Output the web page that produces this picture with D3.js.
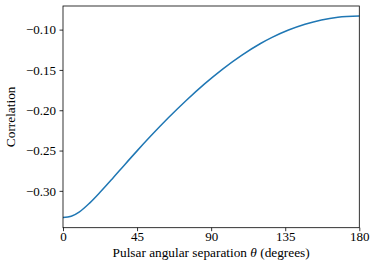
<!DOCTYPE html>
<html>
<head>
<meta charset="utf-8">
<script src="https://cdn.jsdelivr.net/npm/d3@7"></script>
<style>
    html, body { margin: 0; padding: 0; background: #fff; }
    svg { display: block; }
    text { font-family: "Liberation Serif", "DejaVu Serif", serif; fill: #000; }
</style>
</head>
<body>
<div id="chart"></div>
<script>
// Values
var thetaDeg = [0, 5, 10, 16, 22.5, 30, 37.5, 45, 53, 64, 75, 86, 97, 108.5, 120, 127, 137, 147, 157, 167, 180];
var correlation = [-0.3332, -0.3315, -0.3260, -0.3155, -0.3018, -0.2849, -0.2675, -0.2504,
    -0.2327, -0.2094, -0.1876, -0.1673, -0.1489, -0.1319, -0.1172, -0.1096, -0.1005,
    -0.0933, -0.0880, -0.0847, -0.0832];
var xTicks = [0, 45, 90, 135, 180];
var yTicks = [-0.30, -0.25, -0.20, -0.15, -0.10];

(function () {

    "use strict";

    var width = 374,
        height = 266,
        margin = {top: 6, right: 14.7, bottom: 38.3, left: 63};

    var svg = d3.select("#chart").append("svg")
        .attr("width", width)
        .attr("height", height);

    var innerW = width - margin.left - margin.right,
        innerH = height - margin.top - margin.bottom;

    var x = d3.scaleLinear().domain([0, 180]).range([0, innerW]);

    // matplotlib style 5% margins on the y data range
    var yMin = d3.min(correlation), yMax = d3.max(correlation),
        pad = (yMax - yMin) * 0.05;
    var y = d3.scaleLinear().domain([yMin - pad, yMax + pad]).range([innerH, 0]);

    var g = svg.append("g")
        .attr("transform", "translate(" + margin.left + "," + margin.top + ")");

    var points = thetaDeg.map(function (t, i) {
        return {t: t, v: correlation[i]};
    });

    var line = d3.line()
        .x(function (d) { return x(d.t); })
        .y(function (d) { return y(d.v); })
        .curve(d3.curveMonotoneX);

    g.append("path")
        .datum(points)
        .attr("fill", "none")
        .attr("stroke", "#1f77b4")
        .attr("stroke-width", 1.5)
        .attr("d", line);

    // axes
    var xAxis = d3.axisBottom(x)
        .tickValues(xTicks)
        .tickSize(3.5)
        .tickPadding(1)
        .tickFormat(d3.format("d"));

    var yAxis = d3.axisLeft(y)
        .tickValues(yTicks)
        .tickSize(3.5)
        .tickPadding(3.5)
        .tickFormat(function (d) { return d3.format(".2f")(d).replace("-", "\u2212"); });

    var gx = g.append("g")
        .attr("transform", "translate(0," + innerH + ")")
        .call(xAxis);

    var gy = g.append("g").call(yAxis);

    [gx, gy].forEach(function (a) {
        a.select(".domain").remove();
        a.selectAll(".tick line").attr("stroke", "#000").attr("stroke-width", 0.8);
        a.selectAll(".tick text")
            .attr("font-family", "Liberation Serif, DejaVu Serif, serif")
            .attr("font-size", 13)
            .attr("fill", "#000");
    });

    // spines
    g.append("rect")
        .attr("x", 0)
        .attr("y", 0)
        .attr("width", innerW)
        .attr("height", innerH)
        .attr("fill", "none")
        .attr("stroke", "#000")
        .attr("stroke-width", 0.8);

    // axis labels
    var xl = svg.append("text")
        .attr("x", margin.left + innerW / 2)
        .attr("y", 257)
        .attr("text-anchor", "middle")
        .attr("font-size", 13.3);
    xl.append("tspan").text("Pulsar angular separation ");
    xl.append("tspan").attr("font-style", "italic").text("\u03b8");
    xl.append("tspan").text(" (degrees)");

    svg.append("text")
        .attr("transform", "translate(15," + (margin.top + innerH / 2) + ") rotate(-90)")
        .attr("text-anchor", "middle")
        .attr("font-size", 13.3)
        .text("Correlation");

}());
</script>
</body>
</html>
